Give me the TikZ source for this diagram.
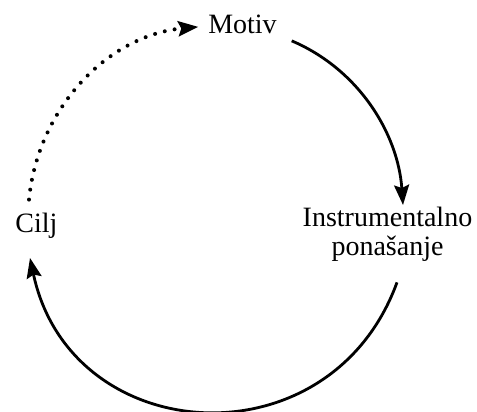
\documentclass[tikz,border=0pt]{standalone}
\usepackage{fontspec}
\setmainfont{Liberation Serif}
\usetikzlibrary{arrows.meta,calc}
\tikzset{
  lbl/.style={inner sep=0pt, outer sep=0pt, font=\fontsize{14}{14.5}\selectfont},
  arr/.style={-{Stealth[length=10pt,width=7.5pt,inset=1.5pt]}, line width=1.4pt},
  darr/.style={-{Stealth[length=10pt,width=7.5pt,inset=1.5pt]}, line width=2pt,
    line cap=round, dash pattern=on 0pt off 5pt},
}
\begin{document}
\begin{tikzpicture}[x=0.5pt, y=0.5pt]
\useasboundingbox (0,0) rectangle (477,412);

%% NODES
\node[lbl, anchor=base] (motiv) at (242.5,378) {Motiv};
\node[lbl, anchor=north, align=center] (instrP) at (387.5,205)
  {Instrumentalno\\ponašanje};
\node[lbl, anchor=base] (cilj) at (36.5,179) {Cilj};

%% ARROWS
\draw[arr] ($(motiv.east)+(15,-16)$)
  to[out=-23, in=94, looseness=0.93] ($(instrP.north)+(15.5,2)$);
\draw[arr] ($(instrP.south)+(9.5,-21)$)
  to[out=-110, in=-78, looseness=1.36] ($(cilj.south)+(-6.5,-19)$);
\draw[darr] ($(cilj.north)+(-7.5,14)$)
  to[out=84.5, in=185.4, looseness=0.965] ($(motiv.west)+(-10,-2)$);

\end{tikzpicture}
\end{document}
